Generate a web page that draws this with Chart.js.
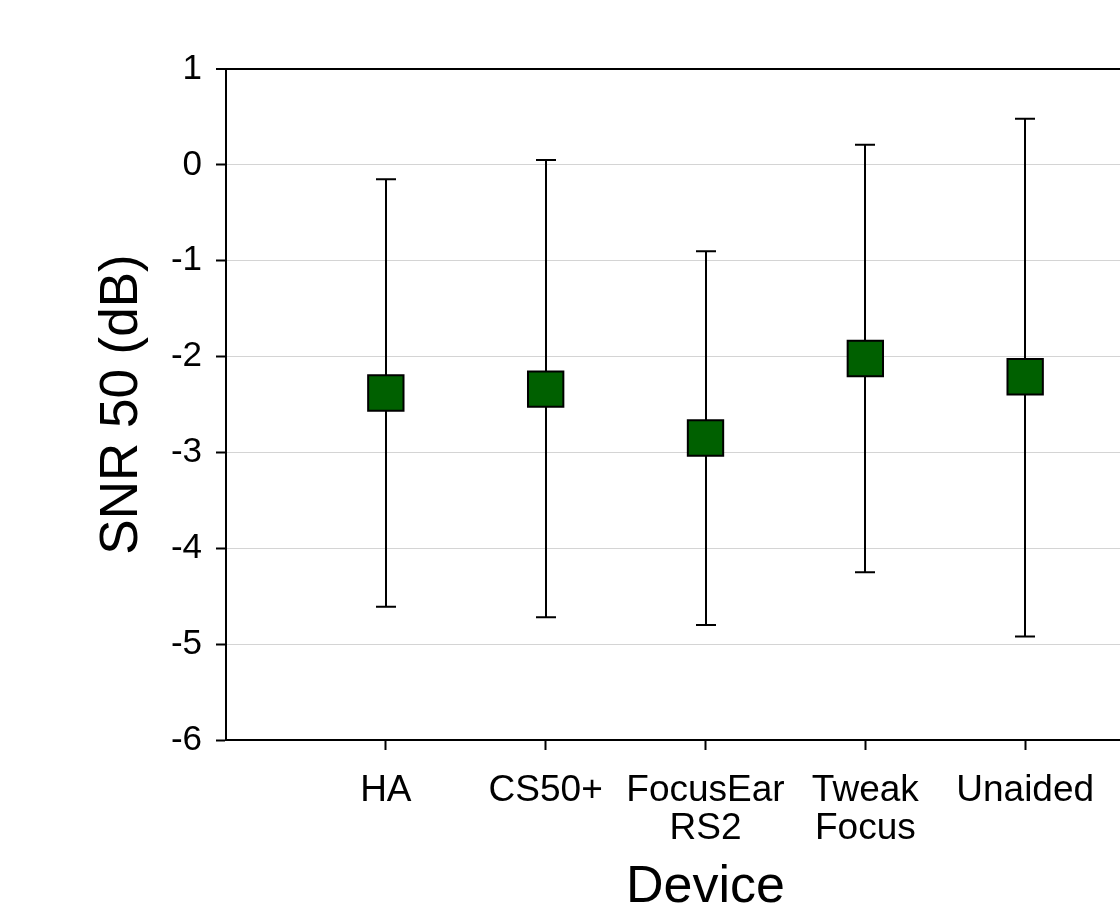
<!DOCTYPE html>
<html>
<head>
<meta charset="utf-8">
<script src="https://cdn.jsdelivr.net/npm/chart.js@4"></script>
<style>
  html, body { margin: 0; padding: 0; background: #fff; overflow: hidden; }
  #wrap { width: 1220px; height: 940px; }
</style>
</head>
<body>
<div id="wrap"><canvas id="grafico" width="1220" height="940"></canvas></div>
<script>
// dados
const dispositivos = ['HA', 'CS50+', ['FocusEar', 'RS2'], ['Tweak', 'Focus'], 'Unaided'];
const medias = [-2.38, -2.34, -2.85, -2.02, -2.21];
const limiteSuperior = [-0.15, 0.05, -0.90, 0.21, 0.48];
const limiteInferior = [-4.61, -4.72, -4.80, -4.25, -4.92];
const ticksY = [1, 0, -1, -2, -3, -4, -5, -6];

const fonte = "'Liberation Sans', Arial, sans-serif";

// barras de erro desenhadas pelas escalas do Chart.js
const barrasErro = {
    id: 'barrasErro',
    beforeDatasetsDraw(chart) {
        const ctx = chart.ctx;
        const x = chart.scales.x;
        const y = chart.scales.y;
        ctx.save();
        ctx.strokeStyle = '#000';
        ctx.lineWidth = 2;
        medias.forEach((m, i) => {
            const px = Math.round(x.getPixelForValue(i + 1));
            const topo = y.getPixelForValue(limiteSuperior[i]);
            const base = y.getPixelForValue(limiteInferior[i]);
            ctx.beginPath();
            ctx.moveTo(px, topo);
            ctx.lineTo(px, base);
            ctx.moveTo(px - 10, topo);
            ctx.lineTo(px + 10, topo);
            ctx.moveTo(px - 10, base);
            ctx.lineTo(px + 10, base);
            ctx.stroke();
        });
        ctx.restore();
    }
};

const ctx = document.getElementById('grafico').getContext('2d');
new Chart(ctx, {
    type: 'scatter',
    data: {
        datasets: [{
            data: medias.map((m, i) => ({ x: i + 1, y: m })),
            pointStyle: 'rect',
            pointRadius: 25,
            backgroundColor: '#006000',
            borderColor: '#000',
            borderWidth: 2
        }]
    },
    options: {
        responsive: false,
        animation: false,
        layout: { padding: { top: 69, right: 35, left: 0, bottom: 0 } },
        plugins: {
            legend: { display: false },
            tooltip: { enabled: false }
        },
        scales: {
            x: {
                type: 'linear',
                min: 0,
                max: 6,
                afterBuildTicks: scale => {
                    scale.ticks = dispositivos.map((d, i) => ({ value: i + 1 }));
                },
                afterFit: scale => { scale.height = 200; },
                grid: {
                    drawOnChartArea: false,
                    tickColor: '#000',
                    tickLength: 10,
                    tickWidth: 2
                },
                border: { color: '#000', width: 2 },
                ticks: {
                    color: '#000',
                    padding: 21,
                    maxRotation: 0,
                    autoSkip: false,
                    font: { family: fonte, size: 37, lineHeight: 1.05 },
                    callback: (v) => dispositivos[v - 1]
                },
                title: {
                    display: true,
                    text: 'Device',
                    color: '#000',
                    font: { family: fonte, size: 52, lineHeight: 1 },
                    padding: { top: 0, bottom: 26 }
                }
            },
            y: {
                min: -6,
                max: 1,
                afterBuildTicks: scale => {
                    scale.ticks = ticksY.map(v => ({ value: v }));
                },
                afterFit: scale => { scale.width = 226; },
                grid: {
                    color: c => (c.tick && c.tick.value === 1) ? '#000' : '#d4d4d4',
                    lineWidth: c => (c.tick && c.tick.value === 1) ? 2 : 1,
                    tickColor: '#000',
                    tickLength: 10,
                    tickWidth: 2
                },
                border: { color: '#000', width: 2 },
                ticks: {
                    color: '#000',
                    padding: 14,
                    font: { family: fonte, size: 35 }
                },
                title: {
                    display: true,
                    text: 'SNR 50 (dB)',
                    color: '#000',
                    font: { family: fonte, size: 53, lineHeight: 1 },
                    padding: { top: 96, bottom: 0 }
                }
            }
        }
    },
    plugins: [barrasErro]
});
</script>
</body>
</html>
